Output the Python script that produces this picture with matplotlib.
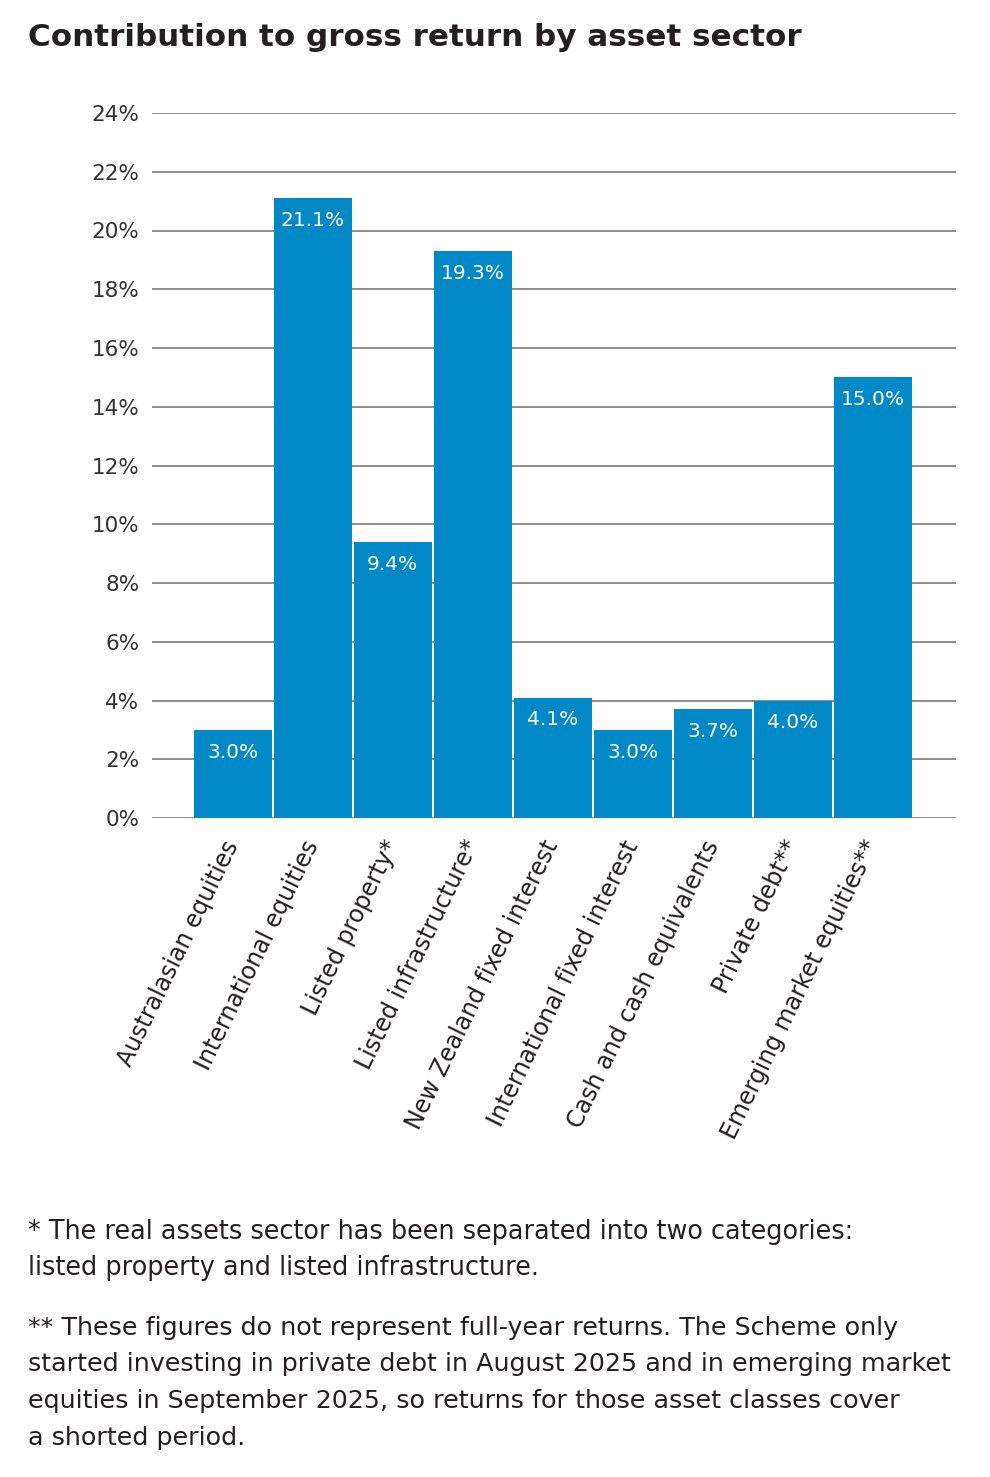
import matplotlib
matplotlib.use('Agg')
import matplotlib.pyplot as plt

plt.rcParams['font.family'] = ['DejaVu Sans']

# data
sectors = ['Australasian equities', 'International equities', 'Listed property*',
           'Listed infrastructure*', 'New Zealand fixed interest',
           'International fixed interest', 'Cash and cash equivalents',
           'Private debt**', 'Emerging market equities**']
returns = [3.0, 21.1, 9.4, 19.3, 4.1, 3.0, 3.7, 4.0, 15.0]
yticks = [0, 2, 4, 6, 8, 10, 12, 14, 16, 18, 20, 22, 24]

title = 'Contribution to gross return by asset sector'
note1 = ['* The real assets sector has been separated into two categories:',
         'listed property and listed infrastructure.']
note2 = ['** These figures do not represent full-year returns. The Scheme only',
         'started investing in private debt in August 2025 and in emerging market',
         'equities in September 2025, so returns for those asset classes cover',
         'a shorted period.']

W, H = 990, 1477
bar_col = '#0089c6'
grid_col = '#8c8c8c'
txt_col = '#231f20'

fig = plt.figure(figsize=(W / 100, H / 100), dpi=100)
ax = fig.add_axes([152 / W, 1 - 818 / H, (956 - 152) / W, (818 - 113) / H])

x = list(range(len(sectors)))
ax.bar(x, returns, width=0.975, color=bar_col, zorder=3)
for xi, v in zip(x, returns):
    ax.annotate(f'{v:.1f}%', (xi, v), xytext=(0, -16), textcoords='offset points',
                ha='center', va='center', color='white', fontsize=14.5, zorder=4)

ax.set_xlim(-1.01, 9.04)
ax.set_ylim(0, 24)
ax.set_yticks(yticks)
ax.set_yticklabels([f'{t}%' for t in yticks])
for t in yticks:
    ax.axhline(t, color=grid_col, lw=1.4, zorder=1)

ax.set_xticks(x)
ax.set_xticklabels(sectors, rotation=64, ha='right', va='center',
                   rotation_mode='anchor')
ax.tick_params(axis='x', length=0, pad=17, labelsize=17, labelcolor=txt_col)
ax.tick_params(axis='y', length=0, pad=9, labelsize=15.5, labelcolor='#333333')
for s in ax.spines.values():
    s.set_visible(False)

fig.text(28 / W, 1 - 38 / H, title, fontsize=22.3, fontweight='bold',
         color=txt_col, va='center', ha='left')

for i, line in enumerate(note1):
    fig.text(28 / W, 1 - (1232 + 36 * i) / H, line, fontsize=18.4,
             color=txt_col, va='center', ha='left')
for i, line in enumerate(note2):
    fig.text(28 / W, 1 - (1328 + 36.5 * i) / H, line, fontsize=18.3,
             color=txt_col, va='center', ha='left')

fig.savefig('out.png', dpi=100)
